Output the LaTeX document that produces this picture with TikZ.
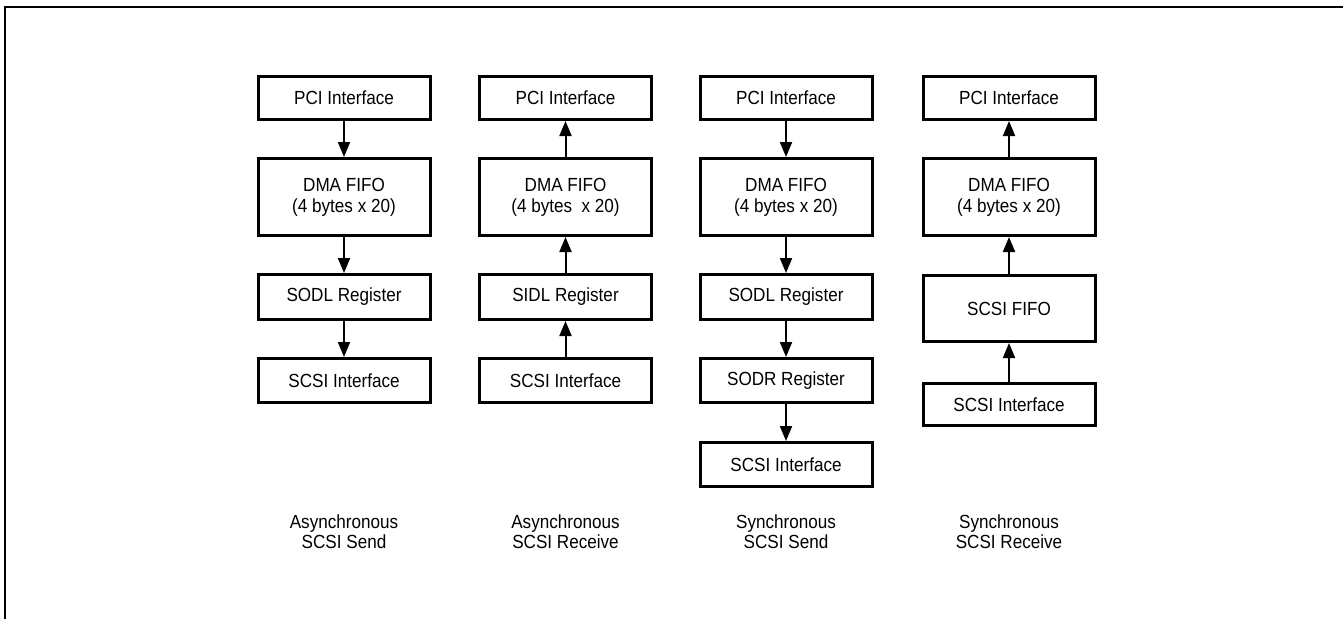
\documentclass[tikz,border=0pt]{standalone}
\usepackage{fontspec}
\setmainfont{Liberation Sans}[FakeStretch=0.9]
\usetikzlibrary{arrows.meta}
\begin{document}
\begin{tikzpicture}[x=1pt,y=-1pt,
  box/.style={draw, line width=3pt, minimum width=172pt, inner sep=0pt, align=center,
    font=\fontsize{19}{21}\selectfont},
  arr/.style={line width=2pt, -{Triangle[length=15pt,width=12pt]}},
  lbl/.style={align=center, font=\fontsize{19}{20}\selectfont}]
\useasboundingbox (0,0) rectangle (1343,619);
\draw[line width=1.5pt] (5,619) -- (5,7) -- (1343,7);
% column 1
\node[box, minimum height=43pt] (a1) at (344,98) {PCI Interface};
\node[box, minimum height=77pt] (a2) at (344,197) {DMA FIFO\\(4 bytes x 20)};
\node[box, minimum height=45pt] (a3) at (344,297) {SODL Register};
\node[box, minimum height=44pt] (a4) at (344,380.5) {SCSI Interface};
\node[lbl] (la) at (344,532) {Asynchronous\\SCSI Send};
\draw[arr] (a1.south) -- (a2.north);
\draw[arr] (a2.south) -- (a3.north);
\draw[arr] (a3.south) -- (a4.north);
% column 2
\node[box, minimum height=43pt] (b1) at (565.5,98) {PCI Interface};
\node[box, minimum height=77pt] (b2) at (565.5,197) {DMA FIFO\\(4 bytes \ x 20)};
\node[box, minimum height=45pt] (b3) at (565.5,297) {SIDL Register};
\node[box, minimum height=44pt] (b4) at (565.5,380.5) {SCSI Interface};
\node[lbl] (lb) at (565.5,532) {Asynchronous\\SCSI Receive};
\draw[arr] (b2.north) -- (b1.south);
\draw[arr] (b3.north) -- (b2.south);
\draw[arr] (b4.north) -- (b3.south);
% column 3
\node[box, minimum height=43pt] (c1) at (786,98) {PCI Interface};
\node[box, minimum height=77pt] (c2) at (786,197) {DMA FIFO\\(4 bytes x 20)};
\node[box, minimum height=45pt] (c3) at (786,297) {SODL Register};
\node[box, minimum height=44pt] (c4) at (786,380.5) {SODR Register};
\node[box, minimum height=44pt] (c5) at (786,464.5) {SCSI Interface};
\node[lbl] (lc) at (786,532) {Synchronous\\SCSI Send};
\draw[arr] (c1.south) -- (c2.north);
\draw[arr] (c2.south) -- (c3.north);
\draw[arr] (c3.south) -- (c4.north);
\draw[arr] (c4.south) -- (c5.north);
% column 4
\node[box, minimum height=43pt] (d1) at (1009,98) {PCI Interface};
\node[box, minimum height=77pt] (d2) at (1009,197) {DMA FIFO\\(4 bytes x 20)};
\node[box, minimum height=66pt] (d3) at (1009,308.5) {SCSI FIFO};
\node[box, minimum height=42pt] (d4) at (1009,404.5) {SCSI Interface};
\node[lbl] (ld) at (1009,532) {Synchronous\\SCSI Receive};
\draw[arr] (d2.north) -- (d1.south);
\draw[arr] (d3.north) -- (d2.south);
\draw[arr] (d4.north) -- (d3.south);
\end{tikzpicture}
\end{document}
